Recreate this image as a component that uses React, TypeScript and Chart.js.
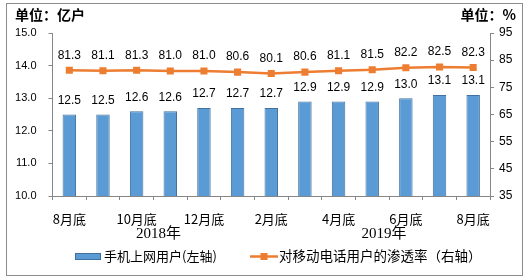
import React, { useEffect, useRef } from "react";
import { Chart, registerables } from "chart.js";

Chart.register(...registerables);

const categories = ["8月底", "9月底", "10月底", "11月底", "12月底", "1月底", "2月底", "3月底", "4月底", "5月底", "6月底", "7月底", "8月底"];
const mobileInternetUsers = [12.5, 12.5, 12.6, 12.6, 12.7, 12.7, 12.7, 12.9, 12.9, 12.9, 13.0, 13.1, 13.1];
const penetrationRate = [81.3, 81.1, 81.3, 81.0, 81.0, 80.6, 80.1, 80.6, 81.1, 81.5, 82.2, 82.5, 82.3];
const yearLabels = ["2018年", "2019年"];
const leftTitle = "单位：亿户";
const rightTitle = "单位：%";
const barLegend = "手机上网用户(左轴)";
const lineLegend = "对移动电话用户的渗透率（右轴）";

const BAR_FILL = "#5B9BD5";
const BAR_BORDER = "#41719C";
const LINE = "#ED7D31";
const AXIS = "#868686";
const SANS = "'Liberation Sans', 'Noto Sans CJK SC', sans-serif";
const CJK = "'Noto Sans CJK SC', 'Liberation Sans', sans-serif";

const decorPlugin = {
  id: "decor",
  beforeDraw(chart: any) {
    const ctx = chart.ctx;
    ctx.save();
    ctx.fillStyle = "#ffffff";
    ctx.fillRect(0, 0, chart.width, chart.height);
    ctx.strokeStyle = "#8c8c8c";
    ctx.lineWidth = 1;
    ctx.strokeRect(6.5, 3.5, 516, 272);
    ctx.restore();
  },
  afterDraw(chart: any) {
    const ctx = chart.ctx;
    const xs = chart.scales.x;
    ctx.save();
    // titles
    ctx.fillStyle = "#000";
    ctx.font = `bold 14px ${CJK}`;
    ctx.textBaseline = "middle";
    ctx.textAlign = "left";
    ctx.fillText(leftTitle, 15, 15);
    ctx.textAlign = "right";
    ctx.fillText(rightTitle, 516, 15);

    // year labels
    const frac = (v: number) => {
      const i = Math.floor(v);
      const a = xs.getPixelForValue(i);
      const b = xs.getPixelForValue(i + 1);
      return a + (b - a) * (v - i);
    };
    ctx.font = `15px 'Liberation Serif', 'Noto Sans CJK SC', serif`;
    ctx.textAlign = "center";
    ctx.fillText(yearLabels[0], frac(2.65), 234);
    ctx.fillText(yearLabels[1], frac(9.35), 234);

    // legend
    ctx.fillStyle = BAR_FILL;
    ctx.fillRect(75.5, 253.5, 25, 6);
    ctx.strokeStyle = BAR_BORDER;
    ctx.lineWidth = 1;
    ctx.strokeRect(75.5, 253.5, 25, 6);
    ctx.fillStyle = "#000";
    ctx.textAlign = "left";
    ctx.font = `13px ${CJK}`;
    ctx.fillText(barLegend, 104, 256);

    ctx.strokeStyle = LINE;
    ctx.lineWidth = 2.5;
    ctx.beginPath();
    ctx.moveTo(250, 256.5);
    ctx.lineTo(278, 256.5);
    ctx.stroke();
    ctx.fillStyle = LINE;
    ctx.fillRect(260.5, 253, 7, 7);
    ctx.fillStyle = "#000";
    ctx.font = `13.5px ${CJK}`;
    ctx.fillText(lineLegend, 279, 256);
    ctx.restore();
  },
  afterDatasetsDraw(chart: any) {
    const ctx = chart.ctx;
    ctx.save();
    ctx.fillStyle = "#000";
    ctx.font = `12px ${SANS}`;
    ctx.textAlign = "center";
    ctx.textBaseline = "middle";
    const barMeta = chart.getDatasetMeta(0);
    barMeta.data.forEach((el: any, i: number) => {
      ctx.fillText(mobileInternetUsers[i].toFixed(1), el.x, el.y - 14);
    });
    const lineMeta = chart.getDatasetMeta(1);
    lineMeta.data.forEach((el: any, i: number) => {
      ctx.fillText(penetrationRate[i].toFixed(1), el.x, el.y - 15);
    });
    ctx.restore();
  },
};

export default function App() {
  const ref = useRef<HTMLCanvasElement | null>(null);
  useEffect(() => {
    if (!ref.current) return;
    const chart = new Chart(ref.current, {
      type: "bar",
      data: {
        labels: categories,
        datasets: [
          {
            type: "bar",
            label: barLegend,
            data: mobileInternetUsers,
            backgroundColor: BAR_FILL,
            borderColor: BAR_BORDER,
            borderWidth: 1,
            barPercentage: 0.4,
            categoryPercentage: 1,
            yAxisID: "y",
            order: 2,
          },
          {
            type: "line",
            label: lineLegend,
            data: penetrationRate,
            borderColor: LINE,
            backgroundColor: LINE,
            borderWidth: 2.5,
            pointStyle: "rect",
            pointRadius: 5,
            pointBorderWidth: 0,
            pointBackgroundColor: LINE,
            yAxisID: "y1",
            order: 1,
          },
        ],
      } as any,
      options: {
        responsive: false,
        animation: false,
        devicePixelRatio: 1,
        layout: { padding: { top: 33, left: 0, right: 0, bottom: 0 } },
        plugins: { legend: { display: false }, tooltip: { enabled: false } },
        scales: {
          x: {
            type: "category",
            offset: true,
            grid: { offset: true, drawOnChartArea: false, drawTicks: true, tickLength: 4, color: AXIS },
            border: { color: AXIS },
            ticks: {
              autoSkip: false,
              maxRotation: 0,
              padding: 11,
              color: "#000",
              font: { family: CJK, size: 13 },
              callback: (_v: any, i: number) => (i % 2 === 0 ? categories[i] : ""),
            },
            afterFit: (s: any) => {
              s.height = 83;
            },
          },
          y: {
            position: "left",
            min: 10,
            max: 15,
            grid: { drawOnChartArea: false, drawTicks: true, tickLength: 4, color: AXIS },
            border: { color: AXIS },
            ticks: {
              stepSize: 1,
              padding: 12,
              color: "#000",
              font: { family: SANS, size: 11 },
              callback: (v: any) => Number(v).toFixed(1),
            },
            afterFit: (s: any) => {
              s.width = 52.5;
            },
          },
          y1: {
            position: "right",
            min: 35,
            max: 95,
            grid: { drawOnChartArea: false, drawTicks: true, tickLength: 4, color: AXIS },
            border: { color: AXIS },
            ticks: {
              stepSize: 10,
              padding: 5,
              color: "#000",
              font: { family: SANS, size: 12 },
            },
            afterFit: (s: any) => {
              s.width = 38;
            },
          },
        },
      } as any,
      plugins: [decorPlugin],
    });
    return () => chart.destroy();
  }, []);
  return (
    <div style={{ position: "fixed", left: 0, top: 0 }}>
      <canvas ref={ref} width={528} height={279} style={{ display: "block", width: 528, height: 279 }} />
    </div>
  );
}
